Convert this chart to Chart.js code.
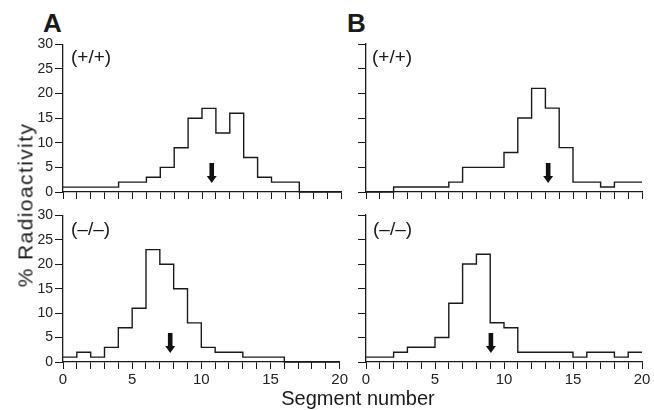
<!DOCTYPE html>
<html>
<head>
<meta charset="utf-8">
<script src="https://cdn.jsdelivr.net/npm/chart.js@4.4.1/dist/chart.umd.min.js"></script>
<style>
  body { margin: 0; background: #fff; width: 654px; height: 410px; position: relative; overflow: hidden;
         font-family: "Liberation Sans", Arial, Helvetica, sans-serif; color: #1a1a1a; }
  canvas { position: absolute; }
  .txt { position: absolute; line-height: 1; white-space: nowrap; }
  .letter { font-size: 26px; font-weight: bold; }
  .geno { font-size: 19px; }
</style>
</head>
<body>
<div class="txt letter" style="left:43px; top:10px;">A</div>
<div class="txt letter" style="left:347px; top:10px;">B</div>

<canvas id="aTop" width="350" height="170" style="left:0; top:34px;"></canvas>
<canvas id="aBot" width="350" height="205" style="left:0; top:205px;"></canvas>
<canvas id="bTop" width="334" height="170" style="left:320px; top:34px;"></canvas>
<canvas id="bBot" width="334" height="205" style="left:320px; top:205px;"></canvas>

<div class="txt geno" style="left:71px; top:47px;">(+/+)</div>
<div class="txt geno" style="left:71px; top:219px;">(–/–)</div>
<div class="txt geno" style="left:372px; top:47px;">(+/+)</div>
<div class="txt geno" style="left:373px; top:219px;">(–/–)</div>

<div class="txt" style="left:25px; top:205px; font-size:21px; letter-spacing:1.4px; transform:translate(-50%,-50%) rotate(-90deg);">% Radioactivity</div>
<div class="txt" style="left:208px; width:300px; top:388px; font-size:20px; text-align:center;">Segment number</div>

<script>
// segment edges along the x axis
const segments = [0, 1, 2, 3, 4, 5, 6, 7, 8, 9, 10, 11, 12, 13, 14, 15, 16, 17, 18, 19, 20];

// % radioactivity per segment (bins 0-1 ... 19-20)
const wtA = [1, 1, 1, 1, 2, 2, 3, 5, 9, 15, 17, 12, 16, 7, 3, 2, 2, 0, 0, 0];
const koA = [1, 2, 1, 3, 7, 11, 23, 20, 15, 8, 3, 2, 2, 1, 1, 1, 0, 0, 0, 0];
const wtB = [0, 0, 1, 1, 1, 1, 2, 5, 5, 5, 8, 15, 21, 17, 9, 2, 2, 1, 2, 2];
const koB = [1, 1, 2, 3, 3, 5, 12, 20, 22, 8, 7, 2, 2, 2, 2, 1, 2, 2, 1, 2];

// arrow positions (segment number)
const arrowsA = [10.7, 7.75];
const arrowsB = [13.2, 9.05];

const yTicks = [0, 5, 10, 15, 20, 25, 30];

const ink = '#1a1a1a';

const arrowPlugin = {
  id: 'arrow',
  afterDatasetsDraw(chart, args, opts) {
    const { ctx } = chart;
    const px = chart.scales.x.getPixelForValue(opts.at);
    const base = chart.scales.y.getPixelForValue(0);
    ctx.save();
    ctx.fillStyle = '#111';
    ctx.fillRect(px - 2.3, base - 29, 4.6, 14);
    ctx.beginPath();
    ctx.moveTo(px - 5, base - 16);
    ctx.lineTo(px + 5, base - 16);
    ctx.lineTo(px, base - 9);
    ctx.closePath();
    ctx.fill();
    ctx.restore();
  }
};

function makePanel(id, values, arrowX, showX, showY) {
  const pts = segments.map((s, i) => ({ x: s, y: values[Math.min(i, values.length - 1)] }));
  const yw = showY ? 63 : 46;
  const xh = showX ? 30 : 12;
  return new Chart(document.getElementById(id), {
    type: 'line',
    data: {
      datasets: [{
        data: pts,
        stepped: 'before',
        borderColor: ink,
        borderWidth: 1.4,
        pointRadius: 0,
        fill: false,
        clip: 4
      }]
    },
    options: {
      responsive: false,
      animation: false,
      events: [],
      layout: { padding: { left: 0, top: 10, right: showY ? 9 : 12, bottom: showX ? 18 : 0 } },
      plugins: {
        legend: { display: false },
        tooltip: { enabled: false },
        arrow: { at: arrowX }
      },
      scales: {
        x: {
          type: 'linear',
          min: 0, max: 20,
          afterFit: s => { s.height = xh; },
          border: { color: ink, width: 1.3 },
          grid: { drawOnChartArea: false, color: ink, tickLength: 7, lineWidth: 1 },
          ticks: {
            display: showX,
            stepSize: 1,
            autoSkip: false,
            maxRotation: 0,
            padding: 2,
            color: '#222',
            font: { family: '"Liberation Sans", Arial, sans-serif', size: 15 },
            callback: v => (v % 5 === 0 ? v : '')
          }
        },
        y: {
          min: 0, max: 30,
          afterFit: s => { s.width = yw; },
          afterBuildTicks: s => { s.ticks = yTicks.map(v => ({ value: v })); },
          border: { color: ink, width: 1.3 },
          grid: { drawOnChartArea: false, color: ink, tickLength: 8, lineWidth: 1 },
          ticks: {
            display: showY,
            padding: 2,
            color: '#222',
            font: { family: '"Liberation Sans", Arial, sans-serif', size: 14 }
          }
        }
      }
    },
    plugins: [arrowPlugin]
  });
}

makePanel('aTop', wtA, arrowsA[0], false, true);
makePanel('aBot', koA, arrowsA[1], true, true);
makePanel('bTop', wtB, arrowsB[0], false, false);
makePanel('bBot', koB, arrowsB[1], true, false);
</script>
</body>
</html>
